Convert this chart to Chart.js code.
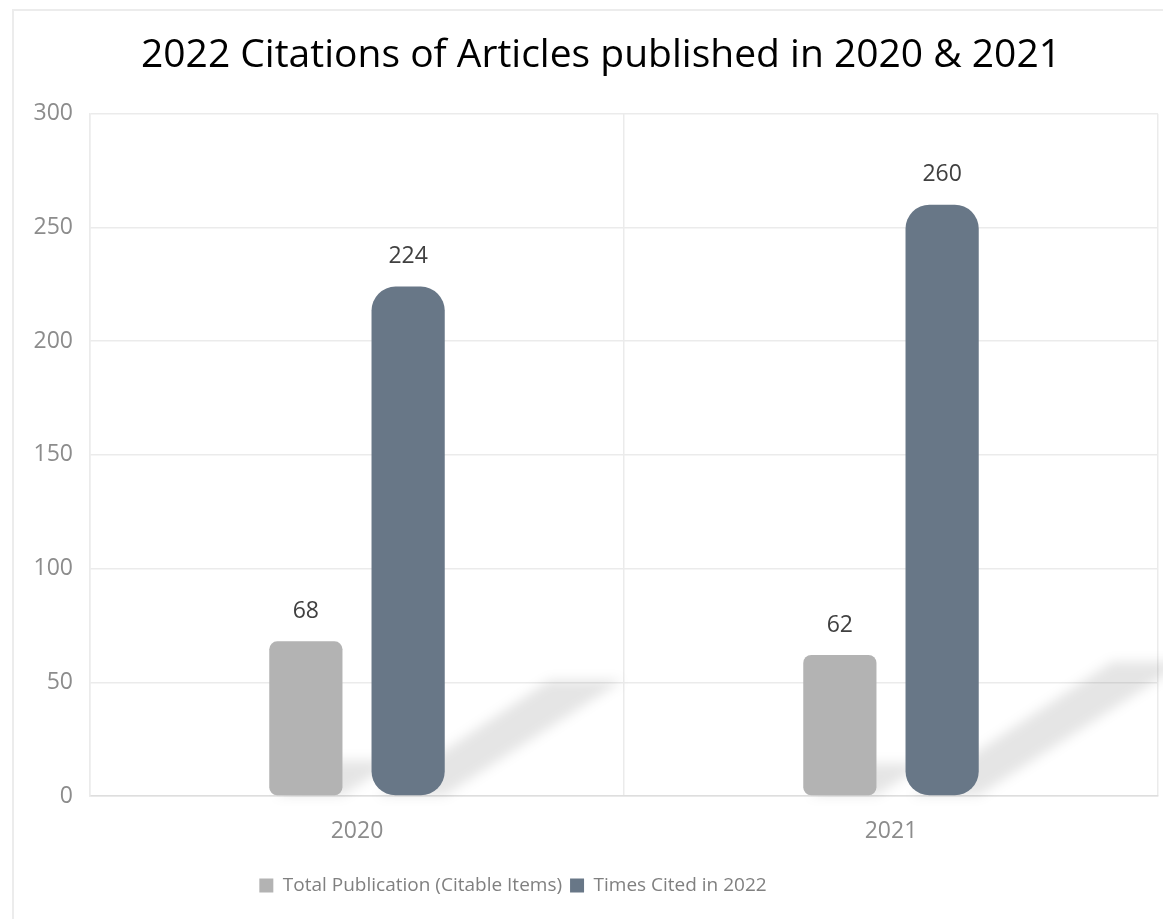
<!DOCTYPE html>
<html>
<head>
<meta charset="utf-8">
<script src="https://cdn.jsdelivr.net/npm/chart.js@4"></script>
<style>
  html, body { margin: 0; padding: 0; background: #fff; overflow: hidden; }
  #frame { position: absolute; left: 12px; top: 9px; width: 1300px; height: 1000px;
           border: 2px solid #ececec; box-sizing: border-box; }
  #wrap { position: absolute; left: 0; top: 0; width: 1163px; height: 919px; }
</style>
</head>
<body>
<div id="frame"></div>
<div id="wrap"><canvas id="citations"></canvas></div>
<script>
const years = ['2020', '2021'];
const totalPublication = [68, 62];
const timesCited = [224, 260];
const yTicks = [0, 50, 100, 150, 200, 250, 300];

const fontFamily = '"Open Sans", "Noto Sans", sans-serif';

// soft slanted shadow behind each bar
const barShadows = {
    id: 'barShadows',
    beforeDatasetsDraw(chart) {
        const ctx = chart.ctx;
        ctx.save();
        ctx.filter = 'blur(6px)';
        ctx.fillStyle = 'rgba(0,0,0,0.10)';
        chart.data.datasets.forEach((ds, i) => {
            chart.getDatasetMeta(i).data.forEach(bar => {
                const h = bar.base - bar.y;
                const dx = h * 0.35, dy = h * 0.226;
                const l = bar.x - bar.width / 2, r = bar.x + bar.width / 2;
                ctx.beginPath();
                ctx.moveTo(l + 6, bar.base);
                ctx.lineTo(r, bar.base);
                ctx.lineTo(r + dx, bar.base - dy);
                ctx.lineTo(l + dx, bar.base - dy);
                ctx.closePath();
                ctx.fill();
            });
        });
        ctx.restore();
    }
};

const valueLabels = {
    id: 'valueLabels',
    afterDatasetsDraw(chart) {
        const ctx = chart.ctx;
        ctx.save();
        ctx.font = '23px ' + fontFamily;
        ctx.fillStyle = '#404040';
        ctx.textAlign = 'center';
        ctx.textBaseline = 'middle';
        chart.data.datasets.forEach((ds, i) => {
            chart.getDatasetMeta(i).data.forEach((bar, j) => {
                ctx.fillText(ds.data[j], bar.x, bar.y - 30);
            });
        });
        ctx.restore();
    }
};

// title sits right of centre and legend left of centre in the original
const blockShift = {
    id: 'blockShift',
    afterLayout(chart) {
        chart.titleBlock.left += 22;
        chart.titleBlock.right += 22;
        chart.legend.left -= 66;
        chart.legend.right -= 66;
    }
};

const ctx = document.getElementById('citations').getContext('2d');
const citationChart = new Chart(ctx, {
    type: 'bar',
    data: {
        labels: years,
        datasets: [{
            label: 'Total Publication (Citable Items)',
            data: totalPublication,
            backgroundColor: '#b3b3b3',
            borderRadius: 8,
            borderSkipped: false
        }, {
            label: 'Times Cited in 2022',
            data: timesCited,
            backgroundColor: '#687787',
            borderRadius: 24,
            borderSkipped: false
        }]
    },
    options: {
        responsive: true,
        maintainAspectRatio: false,
        animation: false,
        categoryPercentage: 0.383,
        barPercentage: 0.716,
        layout: { padding: { top: 6, right: 5, bottom: 14, left: 0 } },
        scales: {
            x: {
                grid: { color: '#ebebeb', lineWidth: 1.5, drawTicks: false },
                border: { color: '#dedede', width: 1.5 },
                ticks: { color: '#8c8c8c', font: { size: 23, family: fontFamily }, padding: 22 },
                afterFit: s => { s.height = 72; }
            },
            y: {
                min: 0,
                max: 300,
                afterBuildTicks: s => { s.ticks = yTicks.map(v => ({ value: v })); },
                grid: { color: '#ebebeb', lineWidth: 1.5, drawTicks: false },
                border: { color: '#ebebeb', width: 1.5 },
                ticks: { color: '#8c8c8c', font: { size: 23, family: fontFamily }, padding: 17 },
                afterFit: s => { s.width = 90; }
            }
        },
        plugins: {
            title: {
                display: true,
                text: '2022 Citations of Articles published in 2020 & 2021',
                color: '#000',
                font: { size: 39, family: fontFamily, weight: 'normal' },
                padding: { top: 26, bottom: 35 }
            },
            legend: {
                position: 'bottom',
                labels: {
                    color: '#808080',
                    font: { size: 19, family: fontFamily },
                    boxWidth: 14,
                    boxHeight: 14,
                    padding: 8
                }
            },
            tooltip: { enabled: false }
        }
    },
    plugins: [barShadows, valueLabels, blockShift]
});
</script>
</body>
</html>
